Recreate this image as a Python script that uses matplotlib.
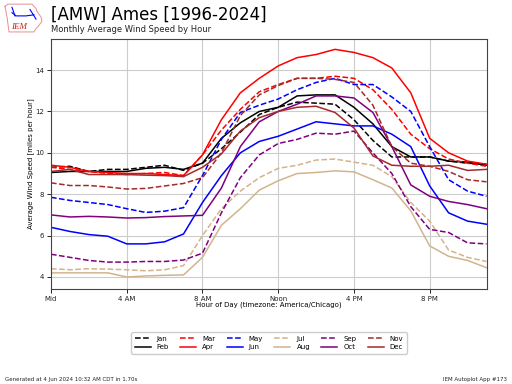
import matplotlib
matplotlib.use("Agg")
import matplotlib.pyplot as plt
from matplotlib.lines import Line2D

hours = list(range(24))
jan = [9.3,9.35,9.1,9.2,9.2,9.3,9.4,9.15,9.5,10.2,11.0,11.85,12.2,12.45,12.4,12.35,11.6,10.6,9.8,9.8,9.8,9.6,9.5,9.45]
feb = [9.05,9.1,9.1,9.1,9.1,9.25,9.3,9.2,9.5,10.7,11.45,12.0,12.2,12.75,12.8,12.8,12.2,11.4,10.3,9.8,9.8,9.6,9.55,9.4]
mar = [9.3,9.2,9.1,9.0,8.95,9.0,9.05,8.9,9.9,11.1,12.1,12.95,13.3,13.6,13.6,13.7,13.6,13.05,12.1,10.9,10.2,9.7,9.5,9.35]
apr = [9.4,9.3,9.1,9.05,9.0,9.0,8.95,8.9,9.9,11.6,12.9,13.6,14.2,14.6,14.75,15.0,14.85,14.6,14.1,12.9,10.7,10.0,9.6,9.45]
may = [7.85,7.7,7.6,7.5,7.3,7.12,7.18,7.35,8.9,10.65,11.95,12.3,12.6,13.05,13.4,13.6,13.3,13.3,12.7,12.0,10.3,8.7,8.15,7.9]
jun = [6.4,6.2,6.05,5.97,5.6,5.6,5.7,6.08,7.6,8.9,10.0,10.55,10.8,11.15,11.5,11.4,11.3,11.3,10.9,10.3,8.4,7.1,6.7,6.55]
jul = [4.4,4.35,4.4,4.38,4.35,4.3,4.35,4.55,6.0,7.3,8.15,8.8,9.25,9.4,9.65,9.7,9.55,9.4,8.85,7.6,6.7,5.3,4.95,4.75]
aug = [4.2,4.2,4.2,4.2,4.0,4.05,4.08,4.1,4.95,6.5,7.3,8.2,8.65,9.0,9.05,9.13,9.08,8.7,8.3,7.2,5.5,5.0,4.8,4.45]
sep = [5.1,4.95,4.8,4.72,4.72,4.75,4.75,4.82,5.15,7.1,8.8,9.9,10.45,10.65,10.95,10.9,11.05,10.0,9.0,7.4,6.3,6.15,5.65,5.6]
oct_ = [7.0,6.9,6.93,6.9,6.85,6.87,6.92,6.95,6.98,8.3,10.3,11.5,12.0,12.35,12.75,12.75,12.65,11.95,10.3,8.45,7.9,7.65,7.5,7.3]
nov = [8.55,8.42,8.42,8.35,8.25,8.28,8.4,8.52,8.8,10.0,11.8,12.8,13.25,13.6,13.6,13.55,13.4,12.3,10.3,9.5,9.35,9.1,8.7,8.6]
dec = [9.1,9.2,8.95,8.95,8.95,8.92,8.9,8.85,9.3,9.95,11.05,11.7,12.0,12.2,12.25,11.95,11.2,9.85,9.4,9.35,9.35,9.4,9.15,9.2]

month_labels = ["Jan","Feb","Mar","Apr","May","Jun","Jul","Aug","Sep","Oct","Nov","Dec"]
month_values = [jan,feb,mar,apr,may,jun,jul,aug,sep,oct_,nov,dec]
colors = ["black","black","red","red","blue","blue","tan","tan","purple","purple","brown","brown"]
styles = ["--","-"]*6
xtick_hours = [0,4,8,12,16,20]
xtick_labels = ["Mid","4 AM","8 AM","Noon","4 PM","8 PM"]
yticks = [4,6,8,10,12,14]

fig = plt.figure(figsize=(5.12,3.84), dpi=100)
W,H = 512,384
ax = fig.add_axes([51/W, 1-289/H, 435.5/W, 250/H])
for lab,val,c,s in zip(month_labels,month_values,colors,styles):
    ax.plot(hours,val,color=c,ls=s,lw=1.1,label=lab)
ax.set_xlim(0,23)
ax.set_ylim(3.42,15.5)
ax.set_xticks(xtick_hours)
ax.set_xticklabels(xtick_labels)
ax.set_yticks(yticks)
ax.tick_params(labelsize=5,length=3,width=0.7,pad=2,colors="#222222")
ax.grid(True,color="#cccccc",lw=0.8)
ax.set_axisbelow(True)
for sp in ax.spines.values():
    sp.set_linewidth(0.8); sp.set_color("#444444")
ax.set_xlabel("Hour of Day (timezone: America/Chicago)",fontsize=5,labelpad=-0.5)
ax.set_ylabel("Average Wind Speed [miles per hour]",fontsize=5,labelpad=1)

fig.legend(*ax.get_legend_handles_labels(),loc="center",bbox_to_anchor=(269/W,1-343/H),ncol=6,
           fontsize=5,columnspacing=1.6,handlelength=2.3,handletextpad=0.9,labelspacing=0.4,
           borderpad=0.45,framealpha=1,edgecolor="#cccccc")

fig.text(51/W,1-15/H,"[AMW] Ames [1996-2024]",fontsize=12,va="center",ha="left",color="black")
fig.text(51/W,1-30/H,"Monthly Average Wind Speed by Hour",fontsize=6,va="center",ha="left",color="#222222")
fig.text(5/W,1-380/H,"Generated at 4 Jun 2024 10:32 AM CDT in 1.70s",fontsize=4,va="center",ha="left",color="#222222")
fig.text(507/W,1-380/H,"IEM Autoplot App #173",fontsize=4,va="center",ha="right",color="#222222")

# IEM logo
lg = fig.add_axes([0,1-33/H,44/W,31/H]); lg.set_xlim(0,44); lg.set_ylim(31,2); lg.axis("off")
lg.add_line(Line2D([5,8,32,36,37,41,42,38,36,34,9,7,5],[6,4,4,8,11,16,20,25,27,30,30,16,6],color="#e89090",lw=0.7))
lg.add_line(Line2D([12,16,26,34],[12,15,15,14],color="blue",lw=0.8))
lg.add_line(Line2D([12,15],[7,15],color="blue",lw=0.8))
lg.add_line(Line2D([30,36],[9,18],color="blue",lw=0.8))
lg.text(19,25,"IEM",color="#cc2222",fontsize=6.5,style="italic",family="Liberation Serif",ha="center",va="center")

fig.savefig("out.png",dpi=100)
